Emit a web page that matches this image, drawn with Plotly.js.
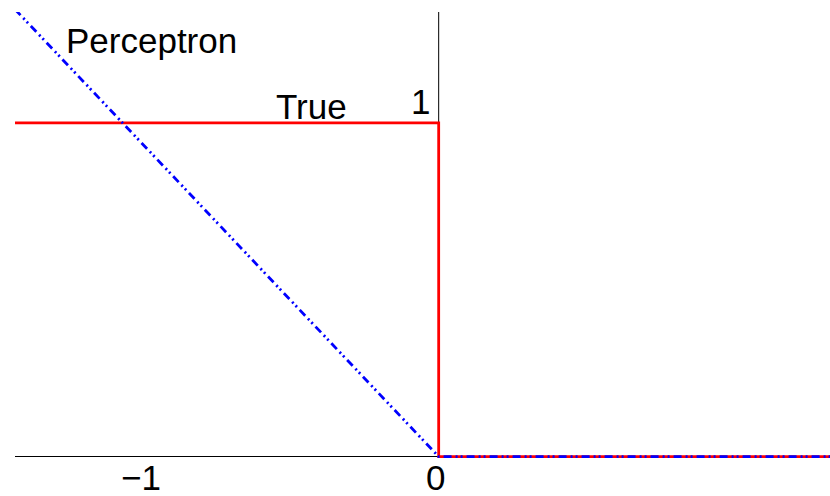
<!DOCTYPE html>
<html>
<head>
<meta charset="utf-8">
<script src="https://cdn.plot.ly/plotly-3.0.1.min.js"></script>
<style>
  html, body {margin: 0; padding: 0; background: #fff;}
  #myDiv {width: 830px; height: 496px;}
</style>
</head>
<body>
<div id="myDiv"></div>
<script>
// 0-1 loss ("True") and perceptron loss
const xTrue = [-1.44, 0, 0, 1.33];
const yTrue = [1, 1, 0, 0];

const xPerc = [-1.44, 0, 1.33];
const yPerc = [1.34, 0, 0];

const tickVals = [-1, 0];
const tickText = ['\u22121', '0'];

const FONT = 'Liberation Sans, Arial, sans-serif';

const traceTrue = {
  type: 'scatter',
  mode: 'lines',
  x: xTrue,
  y: yTrue,
  line: {color: '#ff0000', width: 2.8},
  hoverinfo: 'skip'
};

const tracePerc = {
  type: 'scatter',
  mode: 'lines',
  x: xPerc,
  y: yPerc,
  line: {color: '#0000ff', width: 2.8, dash: '8px,4px,2px,3px,2px,4px'},
  hoverinfo: 'skip'
};

const data = [traceTrue, tracePerc];

// text labels sit at data positions
const annotations = [
  {x: -1.275, y: 1.247, text: 'Perceptron', xanchor: 'left'},
  {x: -0.56, y: 1.05, text: 'True', xanchor: 'left'},
  {x: -0.022, y: 1.065, text: '1', xanchor: 'right'}
].concat(tickVals.map((v, i) => ({
  x: v - 0.011, y: -0.062, text: tickText[i], xanchor: 'center'
}))).map(a => Object.assign({
  xref: 'x', yref: 'y', showarrow: false, yanchor: 'middle',
  font: {family: FONT, size: 35, color: '#000'}
}, a));

const layout = {
  width: 830,
  height: 496,
  margin: {l: 15, r: 0, t: 12, b: 6},
  paper_bgcolor: '#fff',
  plot_bgcolor: '#fff',
  showlegend: false,
  hovermode: false,
  xaxis: {
    range: [-1.44, 1.33],
    showgrid: false,
    zeroline: false,
    showticklabels: false,
    ticks: ''
  },
  yaxis: {
    range: [-0.1, 1.332],
    showgrid: false,
    zeroline: true,
    zerolinecolor: '#000',
    zerolinewidth: 1,
    showticklabels: false,
    ticks: ''
  },
  shapes: [{
    type: 'line', xref: 'x', yref: 'y',
    x0: 0, x1: 0, y0: 0, y1: 1.332,
    line: {color: '#000', width: 1},
    layer: 'below'
  }],
  annotations: annotations
};

Plotly.newPlot('myDiv', data, layout, {displayModeBar: false, staticPlot: true});
</script>
</body>
</html>
